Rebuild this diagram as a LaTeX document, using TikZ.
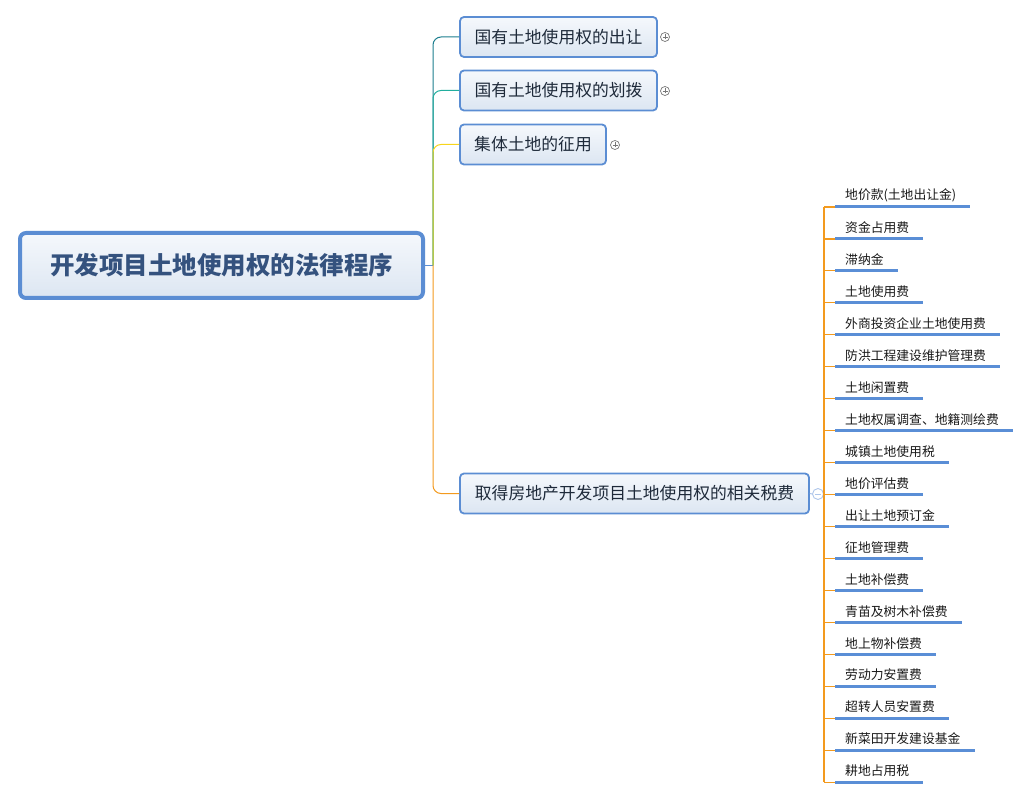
\documentclass[tikz,border=0pt]{standalone}
\usepackage{fontspec}
\setmainfont{Noto Sans CJK SC}
\definecolor{boxblue}{HTML}{5B8DD3}
\definecolor{topfill}{HTML}{F5F8FC}
\definecolor{botfill}{HTML}{DCE6F2}
\definecolor{roottext}{HTML}{34527E}
\definecolor{brtext}{HTML}{1E2A3A}
\definecolor{cteal}{HTML}{1C7E8E}
\definecolor{cgreen}{HTML}{22AE9E}
\definecolor{cyellow}{HTML}{F7D51C}
\definecolor{corange}{HTML}{F39A1E}
\definecolor{uline}{HTML}{5A8ED6}
\definecolor{icongray}{HTML}{777777}
\definecolor{iconblue}{HTML}{AFC6EA}
\tikzset{
  rootbox/.style={draw=boxblue, line width=4pt, rounded corners=6pt, top color=topfill, bottom color=botfill,
    font=\fontsize{24.5}{28}\selectfont\bfseries, text=roottext, inner sep=0pt},
  brbox/.style={draw=boxblue, line width=1.8pt, rounded corners=4pt, top color=topfill, bottom color=botfill,
    font=\fontsize{16.8}{19}\selectfont, text=brtext, inner sep=0pt, minimum height=40pt},
  leafnode/.style={font=\fontsize{12.8}{15}\selectfont, text=black!90, inner xsep=10pt, inner ysep=5pt, anchor=south west},
  ulinestyle/.style={draw=uline, line width=3pt},
  conn/.style={line width=1pt, rounded corners=8pt},
  plusicon/.style={circle, draw=icongray, line width=0.7pt, minimum size=9pt, inner sep=0pt, fill=white},
  minusicon/.style={circle, draw=iconblue, line width=0.9pt, minimum size=11pt, inner sep=0pt, fill=white},
}
\begin{document}
\begin{tikzpicture}[x=1pt,y=-1pt]
\useasboundingbox (0,0) rectangle (1031,799);
% root
\node[rootbox, minimum width=403pt, minimum height=65pt] (root) at (221.5,265.5) {开发项目土地使用权的法律程序};
% branches
\node[brbox, minimum width=197pt] (b1) at (558.5,37) {国有土地使用权的出让};
\node[brbox, minimum width=197pt] (b2) at (558.5,90.5) {国有土地使用权的划拨};
\node[brbox, minimum width=146pt] (b3) at (533,144.5) {集体土地的征用};
\node[brbox, minimum width=349pt] (b4) at (634.5,493.5) {取得房地产开发项目土地使用权的相关税费};
% icons
\node[plusicon] (p1) at (665,37) {};
\node[plusicon] (p2) at (665,91) {};
\node[plusicon] (p3) at (615,145) {};
\foreach \p in {p1,p2,p3}{
  \draw[icongray, line width=0.7pt] ([xshift=-2.5pt]\p.center) -- ([xshift=2.5pt]\p.center);
  \draw[icongray, line width=0.7pt] ([yshift=-2.5pt]\p.center) -- ([yshift=2.5pt]\p.center);
}
\node[minusicon] (m4) at (818,494) {};
\draw[iconblue, line width=0.9pt] ([xshift=-3pt]m4.center) -- ([xshift=3pt]m4.center);
% trunk connectors
\coordinate (j) at (433,265.5);
\draw[boxblue, line width=1pt] (root.east) -- (j);
\draw[conn, cteal] (j) |- (b1.west);
\draw[conn, cgreen] (j) |- (b2.west);
\draw[conn, cyellow] (j) |- (b3.west);
\draw[conn, corange] (j) |- (b4.west);
% leaves
\coordinate (vt) at (824,207);
\coordinate (vb) at (824,782);
\draw[iconblue, line width=1pt] (b4.east) -- (m4.west);
\draw[corange, line width=1pt] (m4.east) -- (824,494);
\draw[corange, line width=1.2pt] (vt) -- (vb);
\foreach \t [count=\i from 0] in {地价款(土地出让金),资金占用费,滞纳金,土地使用费,外商投资企业土地使用费,防洪工程建设维护管理费,土地闲置费,土地权属调查、地籍测绘费,城镇土地使用税,地价评估费,出让土地预订金,征地管理费,土地补偿费,青苗及树木补偿费,地上物补偿费,劳动力安置费,超转人员安置费,新菜田开发建设基金,耕地占用税}{
  \coordinate (t\i) at (824,207+31.95*\i);
  \node[leafnode] (l\i) at (835,207+31.95*\i) {\t};
  \draw[ulinestyle] (l\i.south west) -- ([xshift=4pt]l\i.south east);
  \draw[corange, line width=1.2pt] (t\i) -- (l\i.south west);
}
\end{tikzpicture}
\end{document}
